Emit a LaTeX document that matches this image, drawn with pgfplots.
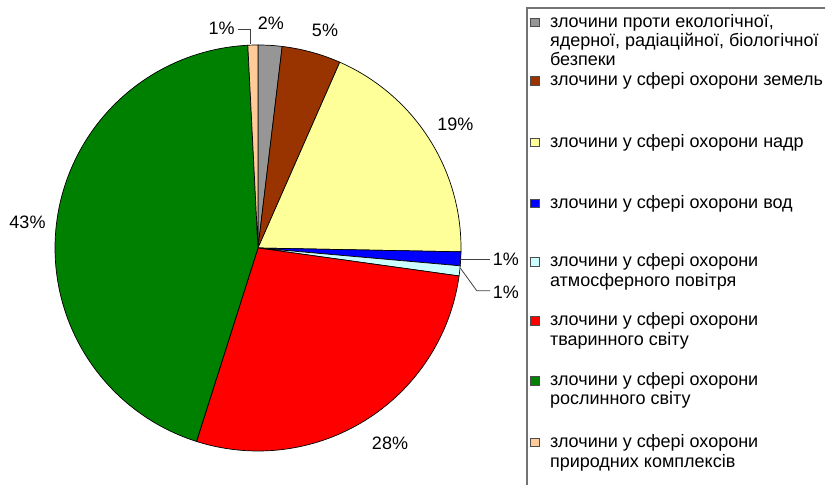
\documentclass[border=0pt]{standalone}
\usepackage{fontspec}
\setmainfont{Liberation Sans}
\usepackage{pgfplots}
\usepackage{pgfplotstable}
\pgfplotsset{compat=1.18}

\definecolor{pieA}{HTML}{969696}
\definecolor{pieB}{HTML}{993300}
\definecolor{pieC}{HTML}{FFFF99}
\definecolor{pieD}{HTML}{0000FF}
\definecolor{pieE}{HTML}{CCFFFF}
\definecolor{pieF}{HTML}{FF0000}
\definecolor{pieG}{HTML}{008000}
\definecolor{pieH}{HTML}{FFCC99}

% share of each category (percent), clockwise from 12 o'clock
\pgfplotstableread{
v
1.9
4.7
18.7
1.1
0.8
27.7
44.3
0.8
}\piedata

\gdef\piecum{0}
\foreach \ii/\nn in {0/a,1/b,2/c,3/d,4/e,5/f,6/g,7/h}{%
  \pgfplotstablegetelem{\ii}{v}\of\piedata
  \pgfmathsetmacro\pst{90-3.6*\piecum}%
  \pgfmathsetmacro\pen{\pst-3.6*\pgfplotsretval}%
  \expandafter\xdef\csname pieS\nn\endcsname{\pst}%
  \expandafter\xdef\csname pieE\nn\endcsname{\pen}%
  \pgfmathsetmacro\pnc{\piecum+\pgfplotsretval}%
  \xdef\piecum{\pnc}%
}

\newcommand\lf{\fontsize{18bp}{20bp}\selectfont}
\newcommand\slice[3]{%
  \addplot[fill=#1, draw=black, line width=0.7bp, domain=#2:#3, samples=100, variable=\tt]
    ({258+203*cos(\tt)},{237+203*sin(\tt)}) -- (axis cs:258,237) -- cycle;}
\newcommand\swatch[2]{%
  \draw[black!70, line width=0.7bp, fill=#1] (axis cs:530.5,#2+0.8) rectangle (axis cs:539,#2+9.3);}

\begin{document}
\begin{tikzpicture}
\begin{axis}[
  at={(0,0)}, anchor=south west,
  scale only axis, width=825bp, height=485bp,
  xmin=0, xmax=825, ymin=0, ymax=485,
  hide axis, clip=false,
]
\slice{pieA}{\pieEa}{\pieSa}
\slice{pieB}{\pieEb}{\pieSb}
\slice{pieC}{\pieEc}{\pieSc}
\slice{pieD}{\pieEd}{\pieSd}
\slice{pieE}{\pieEe}{\pieSe}
\slice{pieF}{\pieEf}{\pieSf}
\slice{pieG}{\pieEg}{\pieSg}
\slice{pieH}{\pieEh}{\pieSh}

% percentage labels
\node[anchor=base, font=\lf] at (axis cs:270.8,455) {2\%};
\node[anchor=base, font=\lf] at (axis cs:325,448.3) {5\%};
\node[anchor=base, font=\lf] at (axis cs:221.7,450) {1\%};
\node[anchor=base, font=\lf] at (axis cs:455.3,354.3) {19\%};
\node[anchor=base, font=\lf] at (axis cs:505.8,219) {1\%};
\node[anchor=base, font=\lf] at (axis cs:505.8,186.7) {1\%};
\node[anchor=base, font=\lf] at (axis cs:390,35.7) {28\%};
\node[anchor=base, font=\lf] at (axis cs:27.5,256) {43\%};

% leader lines
\draw[black!75, line width=0.8bp] (axis cs:237.7,455.7) -- (axis cs:250.7,455.7) -- (axis cs:250.7,440.7);
\draw[black!75, line width=0.8bp] (axis cs:461,225.7) -- (axis cs:490,225.7);
\draw[black!75, line width=0.8bp] (axis cs:460.5,216.7) -- (axis cs:476.7,194.3) -- (axis cs:490,194.3);

% legend
\draw[black!55, line width=1.5bp] (axis cs:527,-20) rectangle (axis cs:860,477);
\swatch{pieA}{457.7}
\swatch{pieB}{399}
\swatch{pieC}{337.7}
\swatch{pieD}{276.7}
\swatch{pieE}{218}
\swatch{pieF}{159}
\swatch{pieG}{99}
\swatch{pieH}{37.7}
\node[anchor=base west, font=\lf] at (axis cs:546.5,457.7) {злочини проти екологічної,};
\node[anchor=base west, font=\lf] at (axis cs:546.5,438.5) {ядерної, радіаційної, біологічної};
\node[anchor=base west, font=\lf] at (axis cs:546.5,419) {безпеки};
\node[anchor=base west, font=\lf] at (axis cs:546.5,399) {злочини у сфері охорони земель};
\node[anchor=base west, font=\lf] at (axis cs:546.5,337.7) {злочини у сфері охорони надр};
\node[anchor=base west, font=\lf] at (axis cs:546.5,276.7) {злочини у сфері охорони вод};
\node[anchor=base west, font=\lf] at (axis cs:546.5,218) {злочини у сфері охорони};
\node[anchor=base west, font=\lf] at (axis cs:546.5,198) {атмосферного повітря};
\node[anchor=base west, font=\lf] at (axis cs:546.5,159) {злочини у сфері охорони};
\node[anchor=base west, font=\lf] at (axis cs:546.5,139) {тваринного світу};
\node[anchor=base west, font=\lf] at (axis cs:546.5,99) {злочини у сфері охорони};
\node[anchor=base west, font=\lf] at (axis cs:546.5,80) {рослинного світу};
\node[anchor=base west, font=\lf] at (axis cs:546.5,37.7) {злочини у сфері охорони};
\node[anchor=base west, font=\lf] at (axis cs:546.5,17.7) {природних комплексів};
\end{axis}
\pgfresetboundingbox
\path[use as bounding box] (0,0) rectangle (825bp,485bp);
\end{tikzpicture}
\end{document}
